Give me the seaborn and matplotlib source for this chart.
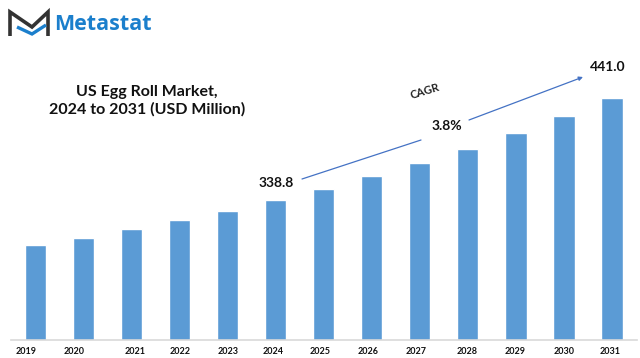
import matplotlib
matplotlib.use("Agg")
import matplotlib.pyplot as plt
import seaborn as sns

years = ["2019", "2020", "2021", "2022", "2023", "2024", "2025",
         "2026", "2027", "2028", "2029", "2030", "2031"]
market = [294, 301, 310, 319, 328, 338.8, 350, 363, 376, 390, 406, 423, 441]

# tick labels in the original sit a bit off the bar centres
tick_pos = [-0.2, -0.2 + 1, 0.08 + 2, 0.0 + 3, 0.0 + 4, -0.06 + 5, -0.07 + 6,
            -0.07 + 7, -0.07 + 8, -0.02 + 9, -0.02 + 10, 0.0 + 11, -0.05 + 12]

sns.set_theme(style="white")
plt.rcParams["font.family"] = ["Lato", "DejaVu Sans"]

fig = plt.figure(figsize=(6.4, 3.58), dpi=100, facecolor="white")
ax = fig.add_axes([11 / 640, (358 - 340) / 358, 626 / 640, 300 / 358])
sns.barplot(x=years, y=market, color="#5B9BD5", saturation=1, width=0.44, ax=ax)
ax.set_xlim(-0.51, 12.52)
ax.set_ylim(199, 499)
ax.set_yticks([])
ax.set_xticks(tick_pos)
ax.set_xticklabels(years, fontsize=6.5, fontweight="bold", color="#111111")
ax.tick_params(axis="x", length=0, pad=5)
sns.despine(ax=ax, left=True)
ax.spines["bottom"].set_color("#D9D9D9")
ax.spines["bottom"].set_linewidth(1.2)

# overlay in image pixels for the logo, title and arrows
ov = fig.add_axes([0, 0, 1, 1])
ov.set_xlim(0, 640)
ov.set_ylim(358, 0)
ov.axis("off")
ov.patch.set_alpha(0)

ov.plot([10, 10, 32, 48, 48], [36, 12, 27, 12, 36], color="#333333", lw=2.6,
        solid_joinstyle="miter", solid_capstyle="butt")
ov.plot([17, 32, 46], [27, 34, 25], color="#1B7FCC", lw=2.4,
        solid_joinstyle="miter", solid_capstyle="butt")
ov.text(54, 24, "Metastat", fontsize=15.5, fontweight="bold", color="#1B7FCC",
        ha="left", va="center", family=["Open Sans", "DejaVu Sans"])

ov.text(147, 101, "US Egg Roll Market,\n2024 to 2031 (USD Million)", fontsize=11.5,
        fontweight="bold", color="#111111", ha="center", va="center", linespacing=1.25)

ov.text(276, 183, "338.8", fontsize=10, fontweight="bold", color="#111111", ha="center", va="center")
ov.text(447, 126, "3.8%", fontsize=10, fontweight="bold", color="#111111", ha="center", va="center")
ov.text(608, 67, "441.0", fontsize=10, fontweight="bold", color="#111111", ha="center", va="center")
ov.text(425, 91, "CAGR", fontsize=8, fontweight="bold", color="#222222", ha="center", va="center", rotation=17)

ov.plot([302, 421], [179, 140], color="#4472C4", lw=0.9)
ov.annotate("", xy=(583, 77), xytext=(469, 120),
            arrowprops=dict(arrowstyle="-|>", color="#4472C4", lw=0.9, mutation_scale=6,
                            shrinkA=0, shrinkB=0))

fig.savefig("out.png", dpi=100)
